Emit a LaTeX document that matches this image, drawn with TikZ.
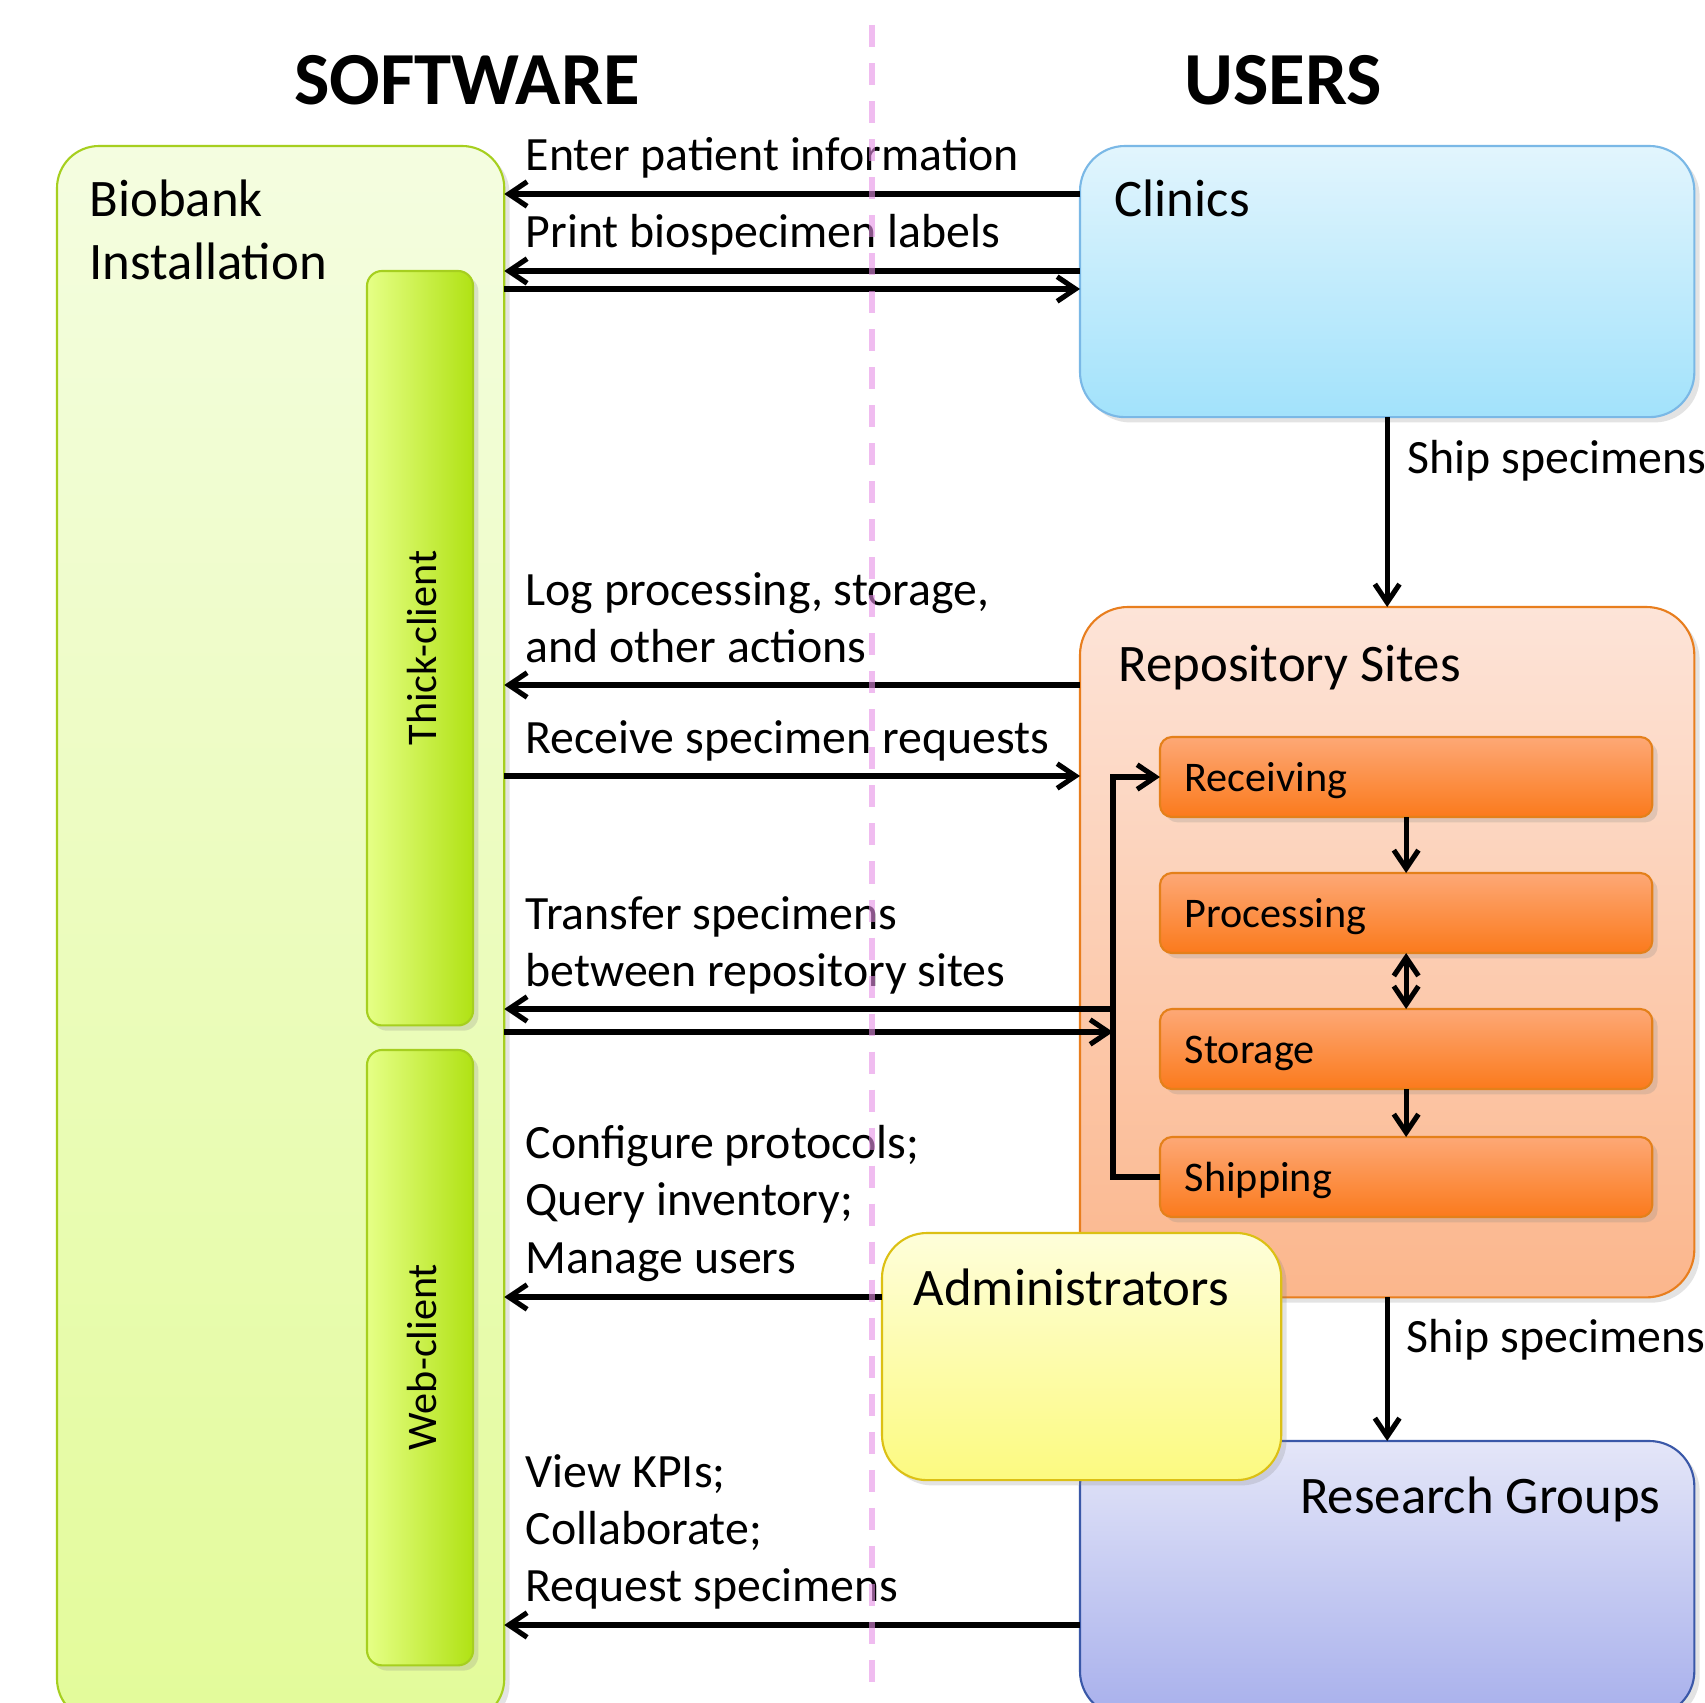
\documentclass[tikz,border=0pt]{standalone}
\usepackage{fontspec}
\setmainfont{Carlito}
\usetikzlibrary{arrows.meta,shadows,calc}
\definecolor{bioTop}{HTML}{F4FDE0}
\definecolor{bioBot}{HTML}{E3FB9A}
\definecolor{bioLine}{HTML}{A6CF1F}
\definecolor{barL}{HTML}{E6FF86}
\definecolor{barR}{HTML}{B0E214}
\definecolor{cliTop}{HTML}{E2F5FD}
\definecolor{cliBot}{HTML}{A2E2FB}
\definecolor{cliLine}{HTML}{7AB8E6}
\definecolor{repTop}{HTML}{FDE4D8}
\definecolor{repBot}{HTML}{FBB68C}
\definecolor{repLine}{HTML}{E87E1E}
\definecolor{stpTop}{HTML}{FDA876}
\definecolor{stpBot}{HTML}{FB7A1C}
\definecolor{stpLine}{HTML}{E4801A}
\definecolor{admTop}{HTML}{FEFEDA}
\definecolor{admBot}{HTML}{FCFA80}
\definecolor{admLine}{HTML}{DCC014}
\definecolor{resTop}{HTML}{E4E6F8}
\definecolor{resBot}{HTML}{A8B0EC}
\definecolor{resLine}{HTML}{3A58A8}
\definecolor{dashCol}{HTML}{E690E6}
\begin{document}
\begin{tikzpicture}[x=0.01cm,y=-0.01cm,
  bigbox/.style={draw, line width=0.6pt, inner sep=0pt, outer sep=0pt, anchor=north west,
    drop shadow={shadow xshift=1.5pt, shadow yshift=-1.5pt, opacity=0.22}},
  stepbox/.style={bigbox, draw=stpLine, top color=stpTop, bottom color=stpBot,
    rounded corners=0.12cm, minimum width=4.92cm, minimum height=0.80cm},
  barbox/.style={bigbox, draw=bioLine, left color=barL, right color=barR,
    rounded corners=0.15cm, minimum width=1.06cm},
  arr/.style={line width=1.45pt, -{Straight Barb[length=5.2pt,width=7pt,line width=1.45pt]}},
  darr/.style={line width=1.45pt, {Straight Barb[length=5.2pt,width=7pt,line width=1.45pt]}-{Straight Barb[length=5.2pt,width=7pt,line width=1.45pt]}},
  lbl/.style={inner sep=0pt, anchor=base west, font=\fontsize{13.6pt}{16pt}\selectfont},
  boxlbl/.style={inner sep=0pt, anchor=base west, font=\fontsize{15pt}{18pt}\selectfont},
  steplbl/.style={inner sep=0pt, anchor=base west, font=\fontsize{12pt}{14pt}\selectfont},
  titlelbl/.style={inner sep=0pt, anchor=base, font=\fontsize{21.3pt}{25pt}\selectfont\bfseries}
]
\path[use as bounding box] (0,0) rectangle (1705,1703);
\fill[white] (0,0) rectangle (1705,1703);
\clip (0,0) rectangle (1705,1703);

% titles
\node[titlelbl] (tsw) at (467,105) {SOFTWARE};
\node[titlelbl] (tus) at (1283,105) {USERS};

% software side
\node[bigbox, draw=bioLine, top color=bioTop, bottom color=bioBot, rounded corners=0.42cm,
  minimum width=4.47cm, minimum height=15.74cm] (biobank) at (57,146) {};
\node[barbox, minimum height=7.54cm] (thick) at (367,271) {};
\node[barbox, minimum height=6.15cm] (web) at (367,1050) {};

% users side
\node[bigbox, draw=cliLine, top color=cliTop, bottom color=cliBot, rounded corners=0.45cm,
  minimum width=6.14cm, minimum height=2.71cm] (clinics) at (1080,146) {};
\node[bigbox, draw=repLine, top color=repTop, bottom color=repBot, rounded corners=0.48cm,
  minimum width=6.14cm, minimum height=6.90cm] (repo) at (1080,607) {};
\node[stepbox] (receiving) at (1160,737) {};
\node[stepbox] (processing) at (1160,873) {};
\node[stepbox] (storage) at (1160,1009) {};
\node[stepbox] (shipping) at (1160,1137) {};
\node[bigbox, draw=resLine, top color=resTop, bottom color=resBot, rounded corners=0.45cm,
  minimum width=6.14cm, minimum height=2.75cm] (research) at (1080,1441) {};
\node[bigbox, draw=admLine, top color=admTop, bottom color=admBot, rounded corners=0.45cm,
  minimum width=3.99cm, minimum height=2.47cm] (admin) at (882,1233) {};

% helper levels
\coordinate (y1) at (0,194);
\coordinate (y2) at (0,271);
\coordinate (y3) at (0,289);
\coordinate (y4) at (0,685);
\coordinate (y5) at (0,776);
\coordinate (y6) at (0,1009);
\coordinate (y7) at (0,1032);
\coordinate (y8) at (0,1297);
\coordinate (y9) at (0,1625);
\coordinate (bx) at (1113,0);

% connectors
\draw[arr] (clinics.west |- y1) -- (biobank.east |- y1);
\draw[arr] (clinics.west |- y2) -- (biobank.east |- y2);
\draw[arr] (biobank.east |- y3) -- (clinics.west |- y3);
\draw[arr] (clinics.south) -- (repo.north);
\draw[arr] (repo.west |- y4) -- (biobank.east |- y4);
\draw[arr] (biobank.east |- y5) -- (repo.west |- y5);
\draw[arr] (bx |- y6) -- (biobank.east |- y6);
\draw[arr] (biobank.east |- y7) -- (bx |- y7);
\draw[arr] (admin.west |- y8) -- (biobank.east |- y8);
\draw[arr] (repo.south) -- (research.north);
\draw[arr] (research.west |- y9) -- (biobank.east |- y9);
\draw[arr] (receiving.south) -- (processing.north);
\draw[darr] (processing.south) -- (storage.north);
\draw[arr] (storage.south) -- (shipping.north);
\draw[arr] (shipping.west) -- (bx |- shipping.west) -- (bx |- receiving.west) -- (receiving.west);

% box labels
\node[boxlbl] (biot1) at (89,217) {Biobank};
\node[boxlbl] (biot2) at (89,280) {Installation};
\node[boxlbl] (clit) at (1114,217) {Clinics};
\node[boxlbl] (rept) at (1118,682) {Repository Sites};
\node[boxlbl] (admt) at (913,1305) {Administrators};
\node[boxlbl, anchor=base east] (rest) at (1661,1513) {Research Groups};
\node[steplbl] (rcvt) at ($(receiving.west)+(24,14.5)$) {Receiving};
\node[steplbl] (prct) at ($(processing.west)+(24,14.5)$) {Processing};
\node[steplbl] (stot) at ($(storage.west)+(24,14.5)$) {Storage};
\node[steplbl] (shpt) at ($(shipping.west)+(24,14.5)$) {Shipping};
\node[steplbl, anchor=base, rotate=90] (thickt) at (436,648) {Thick-client};
\node[steplbl, anchor=base, rotate=90] (webt) at (436,1357) {Web-client};

% connector labels
\node[lbl] (l1) at (525,171) {Enter patient information};
\node[lbl] (l2) at (525,248) {Print biospecimen labels};
\node[lbl] (l3) at (1407,473) {Ship specimens};
\node[lbl] (l4a) at (525,605) {Log processing, storage,};
\node[lbl] (l4b) at (525,662) {and other actions};
\node[lbl] (l5) at (525,753) {Receive specimen requests};
\node[lbl] (l6a) at (525,929) {Transfer specimens};
\node[lbl] (l6b) at (525,986) {between repository sites};
\node[lbl] (l7a) at (525,1158) {Configure protocols;};
\node[lbl] (l7b) at (525,1215) {Query inventory;};
\node[lbl] (l7c) at (525,1273) {Manage users};
\node[lbl] (l8) at (1406,1352) {Ship specimens};
\node[lbl] (l9a) at (525,1487) {View KPIs;};
\node[lbl] (l9b) at (525,1544) {Collaborate;};
\node[lbl] (l9c) at (525,1601) {Request specimens};

% divider
\coordinate (dtop) at (872,25);
\coordinate (dbot) at (872,1690);
\draw[dashCol, opacity=0.6, line width=1.7pt, dash pattern=on 0.22cm off 0.16cm] (dtop) -- (dbot);
\end{tikzpicture}
\end{document}
